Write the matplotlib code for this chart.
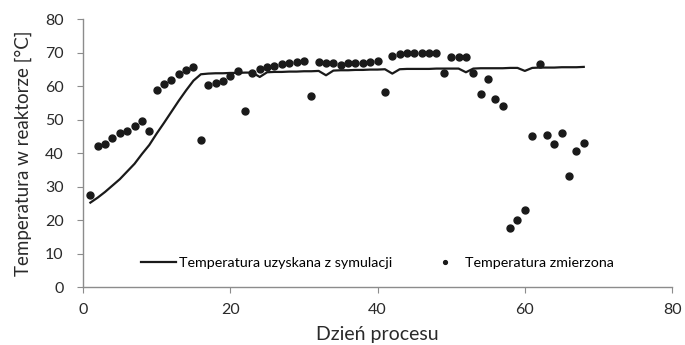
import matplotlib
matplotlib.use("Agg")
import matplotlib.pyplot as plt

plt.rcParams["font.family"] = ["Lato", "DejaVu Sans"]

# measured temperature (day, value)
days_meas = list(range(1, 69))
temp_meas = [
    27.6, 42.1, 42.9, 44.6, 46.1, 46.6, 48.1, 49.6, 46.7, 59.0,
    60.6, 62.0, 63.6, 65.0, 65.7, 44.1, 60.5, 61.0, 61.5, 63.0,
    64.7, 52.7, 64.0, 65.1, 65.7, 66.1, 66.6, 67.0, 67.2, 67.5,
    57.0, 67.2, 67.1, 66.9, 66.5, 66.9, 67.0, 67.1, 67.4, 67.6,
    58.3, 69.2, 69.6, 69.8, 70.0, 70.0, 70.0, 70.0, 64.0, 68.7,
    68.7, 68.7, 64.1, 57.7, 62.1, 56.2, 54.1, 17.6, 20.1, 23.1,
    45.1, 66.6, 45.6, 42.9, 46.1, 33.1, 40.7, 43.0,
]

# simulated temperature
days_sim = list(range(1, 69))
temp_sim = [
    25.3, 26.8, 28.5, 30.4, 32.3, 34.6, 36.9, 39.8, 42.5, 45.9,
    49.1, 52.4, 55.7, 58.8, 61.7, 63.6, 63.8, 63.9, 63.9, 64.0,
    64.0, 64.1, 64.1, 62.8, 64.2, 64.3, 64.3, 64.4, 64.4, 64.5,
    64.5, 64.6, 63.3, 64.7, 64.8, 64.8, 64.9, 64.9, 65.0, 65.0,
    65.1, 63.8, 65.1, 65.2, 65.2, 65.2, 65.2, 65.3, 65.3, 65.3,
    65.3, 64.2, 65.3, 65.4, 65.4, 65.4, 65.4, 65.5, 65.5, 64.6,
    65.5, 65.6, 65.6, 65.6, 65.7, 65.7, 65.7, 65.8,
]

fig = plt.figure(figsize=(6.85, 3.45), dpi=100)
ax = fig.add_axes([0.1212, 0.167, 0.860, 0.777])

ax.plot(days_sim, temp_sim, color="#1a1a1a", linewidth=1.6,
        label="Temperatura uzyskana z symulacji")
ax.plot(days_meas, temp_meas, linestyle="none", marker="o", markersize=5,
        color="#1a1a1a", label="Temperatura zmierzona")

ax.set_xlim(0, 80)
ax.set_ylim(0, 80)
ax.set_xticks(range(0, 81, 20))
ax.set_yticks(range(0, 81, 10))

for side in ("top", "right"):
    ax.spines[side].set_visible(False)
for side in ("left", "bottom"):
    ax.spines[side].set_color("#8c8c8c")
    ax.spines[side].set_linewidth(1.0)
ax.tick_params(colors="#8c8c8c", labelcolor="#2a2a2a", labelsize=11.5,
               length=4, direction="out")
ax.tick_params(axis="x", pad=7)
ax.tick_params(axis="y", pad=10)

ax.set_xlabel("Dzień procesu", fontsize=14, color="#2a2a2a", labelpad=7)
ax.set_ylabel("Temperatura w reaktorze [°C]", fontsize=13.5, color="#2a2a2a",
              labelpad=9)

ax.legend(loc="center", bbox_to_anchor=(0.5, 0.09), ncol=2, frameon=False,
          fontsize=10.3, handlelength=2.45, handletextpad=0.15,
          columnspacing=2.5, markerscale=0.55)

fig.savefig("out.png", dpi=100)
